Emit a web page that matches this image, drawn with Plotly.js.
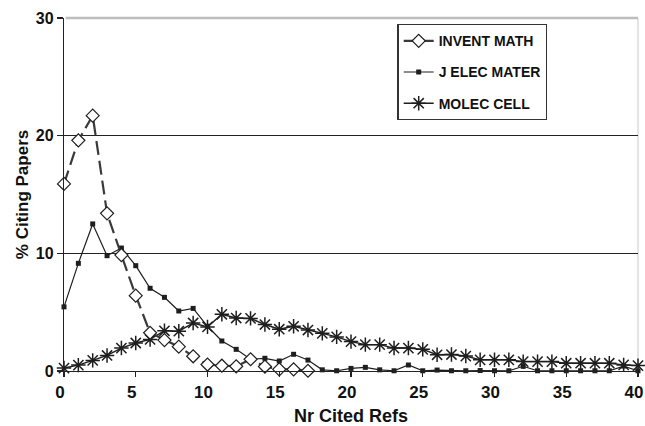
<!DOCTYPE html>
<html>
<head>
<meta charset="utf-8">
<script src="https://cdn.plot.ly/plotly-3.0.1.min.js"></script>
<style>html,body{margin:0;padding:0;background:#fff;}#chart{width:645px;height:426px;}</style>
</head>
<body>
<div id="chart"></div>
<script>
// Nr cited refs (x) for each series
const xInventMath = [0,1,2,3,4,5,6,7,8,9,10,11,12,13,14,15,16,17];
const yInventMath = [15.9,19.6,21.7,13.4,9.85,6.4,3.25,2.63,2.07,1.25,0.55,0.45,0.4,1.0,0.38,0.14,0.14,0.02];

const xElecMater = [0,1,2,3,4,5,6,7,8,9,10,11,12,13,14,15,16,17,18,19,20,21,22,23,24,25,26,27,28,29,30,31,32,33,34,35,36,37,38,39,40];
const yElecMater = [5.45,9.15,12.5,9.8,10.45,8.95,7.03,6.26,5.1,5.32,3.8,2.55,1.84,1.0,1.08,0.85,1.42,0.93,0.1,0.02,0.22,0.31,0.1,0.02,0.51,0.02,0.08,0.02,0.02,0.04,0.02,0.02,0.4,0.02,0.02,0.02,0.02,0.02,0.02,0.42,0.02];

const xMolecCell = [0,1,2,3,4,5,6,7,8,9,10,11,12,13,14,15,16,17,18,19,20,21,22,23,24,25,26,27,28,29,30,31,32,33,34,35,36,37,38,39,40];
const yMolecCell = [0.25,0.5,0.9,1.32,1.95,2.38,2.68,3.42,3.38,4.08,3.75,4.82,4.5,4.47,3.95,3.55,3.8,3.48,3.2,2.9,2.5,2.24,2.24,1.95,1.95,1.84,1.38,1.4,1.27,0.95,0.95,0.95,0.8,0.8,0.8,0.66,0.66,0.66,0.66,0.52,0.46];

const seriesNames = ['INVENT MATH', 'J ELEC MATER', 'MOLEC CELL'];
const xTickVals = [0,5,10,15,20,25,30,35,40];
const yTickVals = [0,10,20,30];

const FONT = 'Liberation Sans, Arial, sans-serif';
const LINE = '#1e1e1e';

const traces = [
  {
    x: xMolecCell, y: yMolecCell, name: seriesNames[2], type: 'scatter', mode: 'lines+markers',
    line: {color: LINE, width: 1.4},
    marker: {symbol: 'asterisk-open', size: 12, color: LINE, line: {color: LINE, width: 1.5}},
    cliponaxis: false, legendrank: 3, legendgroup: 'c'
  },
  {
    x: xElecMater, y: yElecMater, name: seriesNames[1], type: 'scatter', mode: 'lines+markers',
    line: {color: LINE, width: 1.2},
    marker: {symbol: 'square', size: 5, color: LINE},
    cliponaxis: false, legendrank: 2, legendgroup: 'b'
  },
  {
    x: xInventMath, y: yInventMath, name: seriesNames[0], type: 'scatter', mode: 'lines+markers',
    line: {color: '#3a3a3a', width: 2.2, dash: '14px,6px'},
    marker: {symbol: 'diamond', size: 10, color: '#fff', line: {color: LINE, width: 1.2}},
    cliponaxis: false, legendrank: 1, legendgroup: 'a'
  }
];

const layout = {
  width: 645, height: 426,
  margin: {l: 64, r: 7, t: 18, b: 55},
  paper_bgcolor: '#fff', plot_bgcolor: '#fff',
  font: {family: FONT, color: '#111'},
  showlegend: true,
  legend: {
    x: 0.581, y: 0.983, xanchor: 'left', yanchor: 'top',
    bgcolor: '#fff', bordercolor: '#333', borderwidth: 1.2,
    font: {family: FONT, size: 14, color: '#111', weight: 'bold'},
    traceorder: 'grouped', tracegroupgap: 10,
    itemwidth: 30
  },
  xaxis: {
    range: [0, 40], tickvals: xTickVals, ticks: 'outside', ticklen: 5, tickwidth: 1.2, tickcolor: '#222',
    showline: true, linecolor: '#222', linewidth: 1.2, showgrid: false, zeroline: false,
    ticklabeloverflow: 'allow', ticklabelshift: -4,
    tickfont: {family: FONT, size: 17, color: '#111', weight: 'bold'},
    title: {text: 'Nr Cited Refs', font: {family: FONT, size: 18, color: '#111', weight: 'bold'}, standoff: 8}
  },
  yaxis: {
    range: [0, 30], tickvals: yTickVals, ticks: 'outside', ticklen: 6, tickwidth: 1.2, tickcolor: '#222',
    showline: true, linecolor: '#222', linewidth: 1.2, showgrid: true, gridcolor: '#222', gridwidth: 1.3,
    zeroline: false,
    tickfont: {family: FONT, size: 16, color: '#111', weight: 'bold'},
    title: {text: '% Citing Papers', font: {family: FONT, size: 17, color: '#111', weight: 'bold'}, standoff: 2}
  },
  shapes: [
    {type: 'line', xref: 'paper', yref: 'paper', x0: 0.003, x1: 1, y0: 1, y1: 1, line: {color: '#bdbdbd', width: 2.5}, layer: 'above'},
    {type: 'line', xref: 'paper', yref: 'paper', x0: 1, x1: 1, y0: 0, y1: 1, line: {color: '#c8c8c8', width: 1}, layer: 'below'}
  ]
};

Plotly.newPlot('chart', traces, layout, {displayModeBar: false, staticPlot: true});
</script>
</body>
</html>
